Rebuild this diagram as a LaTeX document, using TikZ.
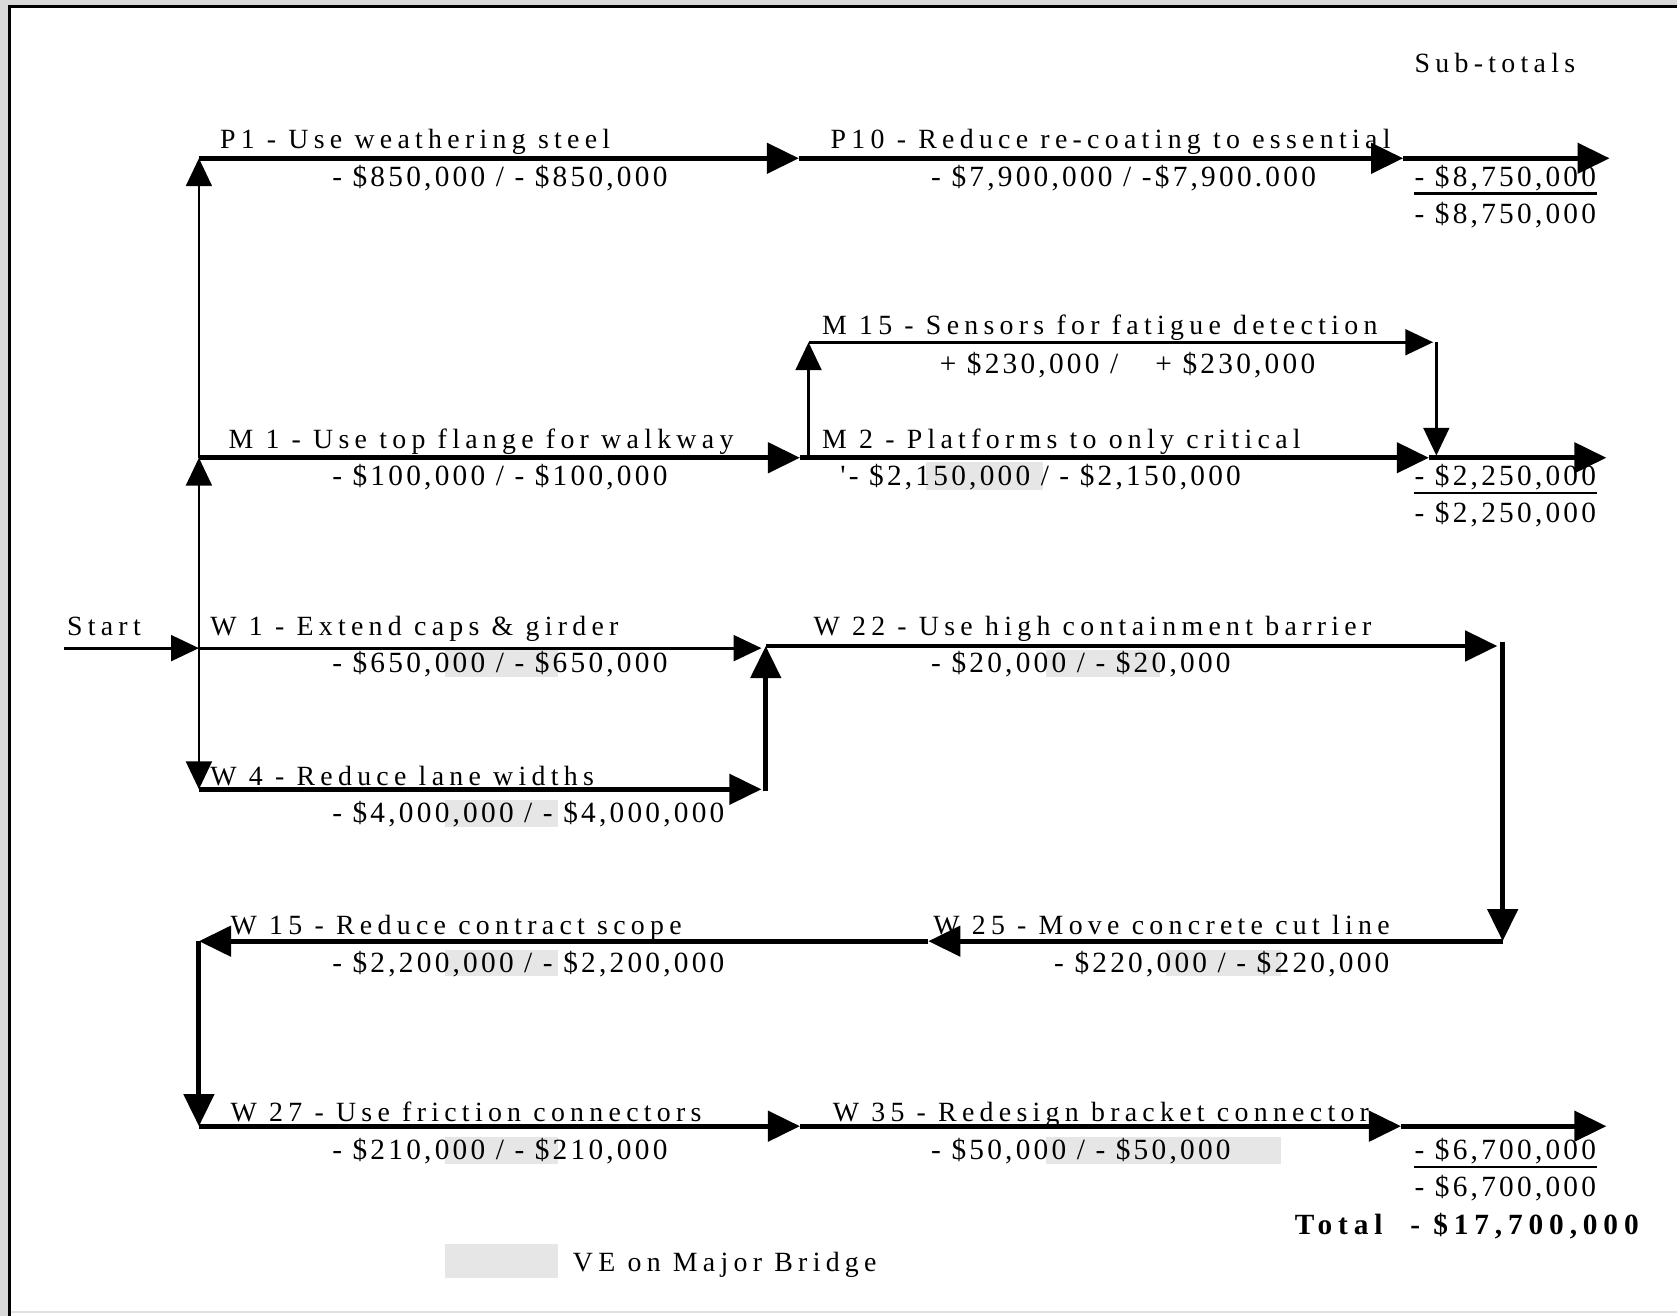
\documentclass[tikz,border=0pt]{standalone}
\usepackage{fontspec}
\setmainfont{Liberation Serif}
\newfontfamily\ttlfont{Liberation Serif}[LetterSpace=19]
\newfontfamily\amtfont{Liberation Serif}[LetterSpace=11]
\newfontfamily\totfont{Liberation Serif}[LetterSpace=20]
\usetikzlibrary{arrows.meta}
\definecolor{vegray}{HTML}{E6E6E6}
\definecolor{bggray}{HTML}{D8D8D8}
\begin{document}
\begin{tikzpicture}[x=0.01cm, y=-0.01cm,
    flow/.style={-{Triangle[length=3mm,width=2.8mm]}, line width=1.3pt},
    branch/.style={-{Triangle[length=2.6mm,width=2.4mm]}, line width=0.75pt},
    ttl/.style={font=\ttlfont\fontsize{7.4}{9}\selectfont, anchor=base west, inner sep=0pt},
    amt/.style={font=\amtfont\fontsize{7.8}{9}\selectfont, anchor=base west, inner sep=0pt},
    tot/.style={font=\totfont\bfseries\fontsize{7.8}{9}\selectfont, anchor=base west, inner sep=0pt},
    ve/.style={fill=vegray, draw=none}]
    \useasboundingbox (0,0) rectangle (1568,1230);

    %sfondo e cornice
    \fill[bggray] (0,0) rectangle (1568,1230);
    \fill[white] (9,6) rectangle (1568,1230);
    \draw[line width=0.85pt] (9,1230) -- (9,6) -- (1568,6);
    \draw[black!12, line width=0.6pt] (10,1227) -- (1568,1227);

    %evidenziato
    \fill[ve] (416,608) rectangle (522,633);
    \fill[ve] (416,748) rectangle (522,773);
    \fill[ve] (866,432) rectangle (975,458);
    \fill[ve] (978,608) rectangle (1085,633);
    \fill[ve] (1090,888) rectangle (1198,913);
    \fill[ve] (416,888) rectangle (522,913);
    \fill[ve] (416,1063) rectangle (522,1088);
    \fill[ve] (978,1063) rectangle (1198,1088);
    \fill[ve] (416,1163) rectangle (522,1195);

    %punti
    \coordinate (st) at (60,606);
    \coordinate (j0) at (186,606);
    \coordinate (m1s) at (186,428);
    \coordinate (p1s) at (186,148);
    \coordinate (w4s) at (186,738);
    \coordinate (p1e) at (747,148);
    \coordinate (p10e) at (1312,148);
    \coordinate (s1e) at (1505,148);
    \coordinate (m1e) at (748,428);
    \coordinate (m2e) at (1336,428);
    \coordinate (s2e) at (1502,428);
    \coordinate (m15b) at (756,428);
    \coordinate (m15t) at (756,320);
    \coordinate (m15e) at (1340,320);
    \coordinate (m15r) at (1343,320);
    \coordinate (m15d) at (1343,426);
    \coordinate (w1e) at (712,606);
    \coordinate (w4e) at (712,738);
    \coordinate (w4u) at (716,740);
    \coordinate (w22s) at (716,604);
    \coordinate (w22e) at (1400,604);
    \coordinate (w22r) at (1405,600);
    \coordinate (w25s) at (1405,880);
    \coordinate (w25e) at (868,880);
    \coordinate (w15e) at (186,880);
    \coordinate (w27s) at (186,1053);
    \coordinate (w27e) at (748,1053);
    \coordinate (w35e) at (1310,1053);
    \coordinate (s3e) at (1502,1053);

    %testi
    \node[ttl] (sub) at (1322,68) {Sub-totals};
    \node[ttl] (p1) at (205,139) {P1 - Use weathering steel};
    \node[amt] (p1v) at (310,174) {- \$850,000 / - \$850,000};
    \node[ttl] (p10) at (776,139) {P10 - Reduce re-coating to essential};
    \node[amt] (p10v) at (870,174) {- \$7,900,000 / -\$7,900.000};
    \node[amt] (s1a) at (1322,174) {- \$8,750,000};
    \node[amt] (s1b) at (1322,209) {- \$8,750,000};

    \node[ttl] (m15) at (768,313) {M 15 - Sensors for fatigue detection};
    \node[amt] (m15v) at (878,349) {+ \$230,000 /\hspace{0.25cm} + \$230,000};
    \node[ttl] (m1) at (213,419) {M 1 - Use top flange for walkway};
    \node[amt] (m1v) at (310,454) {- \$100,000 / - \$100,000};
    \node[ttl] (m2) at (768,419) {M 2 - Platforms to only critical};
    \node[amt] (m2v) at (785,454) {'- \$2,150,000 / - \$2,150,000};
    \node[amt] (s2a) at (1322,454) {- \$2,250,000};
    \node[amt] (s2b) at (1322,489) {- \$2,250,000};

    \node[ttl] (start) at (62,594) {Start};
    \node[ttl] (w1) at (196,594) {W 1 - Extend caps \& girder};
    \node[amt] (w1v) at (310,629) {- \$650,000 / - \$650,000};
    \node[ttl] (w22) at (760,594) {W 22 - Use high containment barrier};
    \node[amt] (w22v) at (870,629) {- \$20,000 / - \$20,000};
    \node[ttl] (w4) at (196,734) {W 4 - Reduce lane widths};
    \node[amt] (w4v) at (310,769) {- \$4,000,000 / - \$4,000,000};

    \node[ttl] (w15) at (215,874) {W 15 - Reduce contract scope};
    \node[amt] (w15v) at (310,909) {- \$2,200,000 / - \$2,200,000};
    \node[ttl] (w25) at (872,874) {W 25 - Move concrete cut line};
    \node[amt] (w25v) at (985,909) {- \$220,000 / - \$220,000};
    \node[ttl] (w27) at (215,1049) {W 27 - Use friction connectors};
    \node[amt] (w27v) at (310,1084) {- \$210,000 / - \$210,000};
    \node[ttl] (w35) at (778,1049) {W 35 - Redesign bracket connector};
    \node[amt] (w35v) at (870,1084) {- \$50,000 / - \$50,000};
    \node[amt] (s3a) at (1322,1084) {- \$6,700,000};
    \node[amt] (s3b) at (1322,1119) {- \$6,700,000};
    \node[tot] (tot) at (1210,1154) {Total};
    \node[tot] (totv) at (1318,1154) {- \$17,700,000};
    \node[ttl] (leg) at (535,1189) {VE on Major Bridge};

    %sottolineati
    \draw[line width=0.7pt] ([yshift=-0.6pt]s1a.south west) -- ([yshift=-0.6pt]s1a.south east);
    \draw[line width=0.7pt] ([yshift=-0.6pt]s2a.south west) -- ([yshift=-0.6pt]s2a.south east);
    \draw[line width=0.7pt] ([yshift=-0.6pt]s3a.south west) -- ([yshift=-0.6pt]s3a.south east);

    %start e rami
    \draw[branch] (st) -- (j0);
    \draw[branch] (j0) -- (m1s);
    \draw[branch] (m1s) -- (p1s);
    \draw[branch] (j0) -- (w4s);
    \draw[branch] (j0) -- (w1e);

    %P
    \draw[flow] (p1s) -- (p1e);
    \draw[flow] (p1e) -- (p10e);
    \draw[flow] (p10e) -- (s1e);

    %M
    \draw[flow] (m1s) -- (m1e);
    \draw[flow] (m1e) -- (m2e);
    \draw[branch] (m15b) -- (m15t);
    \draw[branch] (m15t) -- (m15e);
    \draw[branch] (m15r) -- (m15d);
    \draw[flow] (m2e) -- (s2e);

    %W
    \draw[flow] (w4s) -- (w4e);
    \draw[flow] (w4u) -- (w22s);
    \draw[flow] (w22s) -- (w22e);
    \draw[flow] (w22r) -- (w25s);
    \draw[flow] (w25s) -- (w25e);
    \draw[flow] (w25e) -- (w15e);
    \draw[flow] (w15e) -- (w27s);
    \draw[flow] (w27s) -- (w27e);
    \draw[flow] (w27e) -- (w35e);
    \draw[flow] (w35e) -- (s3e);
\end{tikzpicture}
\end{document}
